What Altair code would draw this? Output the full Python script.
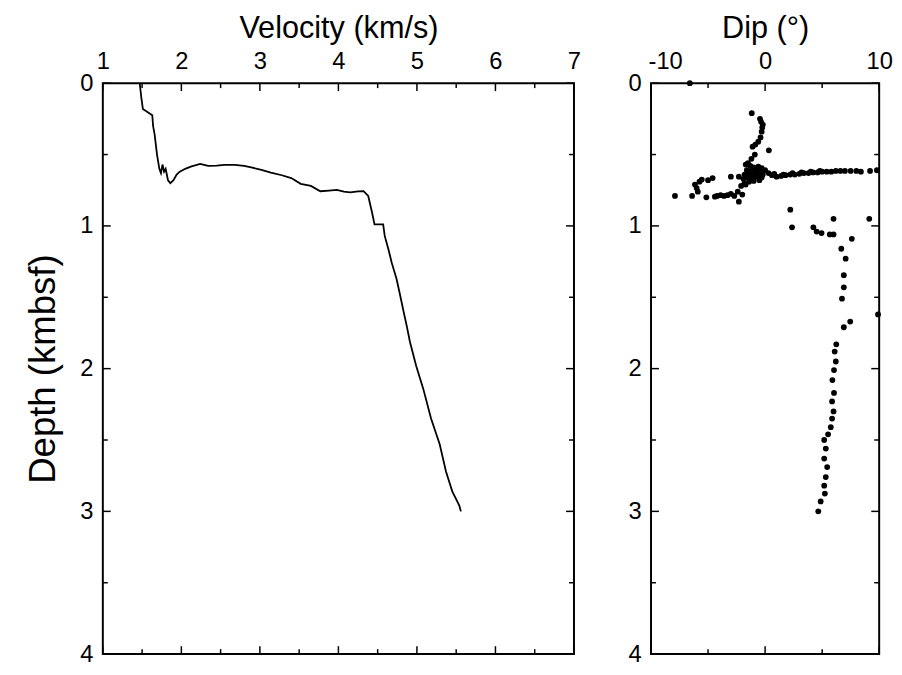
import altair as alt
import pandas as pd

# ---------------- data ----------------
VELOCITY = [1.47, 1.49, 1.51, 1.63, 1.64, 1.66, 1.69, 1.72, 1.74, 1.76, 1.78, 1.80, 1.83, 1.86,
            1.90, 1.94, 1.98, 2.05, 2.12, 2.24, 2.34, 2.45, 2.55, 2.68, 2.80, 2.89, 3.02, 3.14,
            3.28, 3.40, 3.52, 3.65, 3.77, 3.88, 3.98, 4.07, 4.15, 4.25, 4.32, 4.38, 4.43, 4.46,
            4.57, 4.59, 4.64, 4.68, 4.74, 4.78, 4.83, 4.87, 4.91, 4.99, 5.08, 5.18, 5.29, 5.37,
            5.45, 5.54, 5.56]
VEL_DEPTH = [0.00, 0.10, 0.18, 0.225, 0.30, 0.36, 0.50, 0.60, 0.63, 0.57, 0.62, 0.60, 0.68, 0.70,
             0.68, 0.64, 0.62, 0.60, 0.585, 0.566, 0.58, 0.578, 0.573, 0.573, 0.58, 0.59, 0.607,
             0.626, 0.645, 0.665, 0.705, 0.72, 0.757, 0.752, 0.747, 0.76, 0.765, 0.758, 0.757,
             0.79, 0.91, 0.99, 0.99, 1.07, 1.17, 1.26, 1.37, 1.47, 1.60, 1.70, 1.81, 1.98, 2.14,
             2.35, 2.53, 2.72, 2.86, 2.96, 3.00]

DIP = [-6.6,
       -1.17, -0.45, -0.35, -0.2, -0.25, -0.3, -0.4, -0.6, -0.85, -1.1, 0.33, -0.9, -1.2, -1.7, -1.5,
       -1.3, -1.0, -0.6, -0.3, -1.6, -1.2, -0.8, -0.4, 0.0, -1.8, -1.4, -1.0, -0.6, -0.2, 0.3,
       -1.9, -1.5, -1.1, -0.7, -0.3, -1.8, -1.4, -1.0, -0.5, -2.1, -1.7, -2.3,
       0.6, 1.0, 1.4, 1.8, 2.2, 2.6, 3.0, 3.4, 3.8, 4.2, 4.6, 5.0, 5.4, 5.8, 6.2, 6.6, 7.0, 7.5,
       8.0, 8.4, 9.2, 9.8, 0.8, 1.6, 2.4, 3.2, 4.0, 4.8,
       -7.9, -6.4, -6.15, -6.0, -5.75, -5.55, -5.15, -5.0, -4.6, -4.4, -4.2, -3.9, -3.6, -3.3,
       -3.0, -2.7, -3.0, -2.3, -2.0, -2.4, -5.9,
       2.21, 2.36, 4.23, 4.52, 4.95, 5.67, 6.0, 6.0, 9.13, 7.6, 6.68, 7.06, 6.9, 6.9, 6.74, 9.9,
       7.46, 6.9, 6.24, 6.1, 6.2, 6.04, 5.9, 6.04, 5.87, 6.0, 5.87, 5.76, 5.52, 5.18, 5.32, 5.18,
       5.44, 5.32, 5.18, 5.24, 4.87, 4.66]
DIP_DEPTH = [0.0,
             0.21, 0.25, 0.27, 0.29, 0.31, 0.34, 0.38, 0.41, 0.43, 0.445, 0.47, 0.50, 0.53, 0.57, 0.56,
             0.58, 0.59, 0.585, 0.595, 0.61, 0.615, 0.61, 0.62, 0.61, 0.64, 0.635, 0.64, 0.63, 0.64, 0.63,
             0.67, 0.66, 0.665, 0.655, 0.66, 0.70, 0.69, 0.685, 0.68, 0.72, 0.71, 0.655,
             0.645, 0.655, 0.65, 0.645, 0.64, 0.64, 0.635, 0.63, 0.63, 0.625, 0.625, 0.62, 0.62, 0.62,
             0.615, 0.615, 0.615, 0.615, 0.615, 0.62, 0.615, 0.61, 0.635, 0.64, 0.63, 0.625, 0.62, 0.615,
             0.79, 0.79, 0.71, 0.735, 0.69, 0.675, 0.80, 0.68, 0.665, 0.795, 0.79, 0.785, 0.79, 0.785,
             0.775, 0.79, 0.655, 0.83, 0.78, 0.76, 0.76,
             0.886, 1.01, 1.01, 1.04, 1.05, 1.06, 1.06, 0.95, 0.95, 1.09, 1.16, 1.23, 1.345, 1.43, 1.51,
             1.62, 1.67, 1.71, 1.83, 1.88, 1.95, 2.01, 2.08, 2.17, 2.23, 2.30, 2.35, 2.41, 2.46, 2.50,
             2.56, 2.63, 2.69, 2.76, 2.82, 2.875, 2.93, 3.0]

VEL_MAJOR = [1, 2, 3, 4, 5, 6, 7]
VEL_MINOR = [1.5, 2.5, 3.5, 4.5, 5.5, 6.5]
DIP_MAJOR = [-10, 0, 10]
DIP_MINOR = [-5, 5]
DEPTH_MAJOR = [0, 1, 2, 3, 4]
DEPTH_MINOR = [0.5, 1.5, 2.5, 3.5]

# ---------------- layout / style ----------------
FONT = "Liberation Sans"
LW, RW, H = 477, 231, 578
MAJ, MIN = 8, 5

vel_df = pd.DataFrame({"v": VELOCITY, "d": VEL_DEPTH, "i": range(len(VELOCITY))})
dip_df = pd.DataFrame({"v": DIP, "d": DIP_DEPTH})

ys = alt.Scale(domain=[0, 4], reverse=True, nice=False, zero=False)


def y_axis(with_title):
    kw = dict(values=DEPTH_MAJOR, tickSize=0, domain=False, grid=False, labelFontSize=24,
              labelFont=FONT, labelColor="black", labelPadding=10, labelFlush=False,
              labelOverlap=False)
    if with_title:
        kw.update(title="Depth (kmbsf)", titleFont=FONT, titleFontSize=37, titleFontWeight="normal",
                  titleColor="black", titlePadding=18)
    else:
        kw.update(title=None)
    return alt.Axis(**kw)


def x_axis(title, values, first_left=False):
    kw = dict(orient="top", values=values, tickSize=0, domain=False, grid=False,
              labelFontSize=24, labelFont=FONT, labelColor="black", labelPadding=10,
              labelFlush=False, labelOverlap=False, title=title, titleFont=FONT,
              titleFontSize=31, titleFontWeight="normal", titleColor="black",
              titlePadding=5, labelExpr="replace(datum.label, '\u2212', '-')")
    if first_left:
        kw["labelAlign"] = alt.condition(f"datum.value == {values[0]}",
                                         alt.value("left"), alt.value("center"))
        kw["labelOffset"] = alt.condition(f"datum.value == {values[0]}",
                                          alt.value(-3), alt.value(0))
    return alt.Axis(**kw)


def tick_layers(xs, xax, yax, x_major, x_minor, width):
    layers = []
    for vals, L in ((x_major, MAJ), (x_minor, MIN)):
        df = pd.DataFrame({"v": vals})
        X = alt.X("v:Q", scale=xs, axis=xax)
        layers.append(alt.Chart(df).mark_rule(color="black", strokeWidth=1.5).encode(
            x=X, y=alt.value(0), y2=alt.value(L)))
        layers.append(alt.Chart(df).mark_rule(color="black", strokeWidth=1.5).encode(
            x=X, y=alt.value(H - L), y2=alt.value(H)))
    for vals, L in ((DEPTH_MAJOR, MAJ), (DEPTH_MINOR, MIN)):
        df = pd.DataFrame({"d": vals})
        Y = alt.Y("d:Q", scale=ys, axis=yax)
        layers.append(alt.Chart(df).mark_rule(color="black", strokeWidth=1.5).encode(
            y=Y, x=alt.value(0), x2=alt.value(L)))
        layers.append(alt.Chart(df).mark_rule(color="black", strokeWidth=1.5).encode(
            y=Y, x=alt.value(width - L), x2=alt.value(width)))
    return layers


# ---------------- left panel ----------------
xs_vel = alt.Scale(domain=[1, 7], nice=False, zero=False)
xax_vel = x_axis("Velocity (km/s)", VEL_MAJOR)
yax_left = y_axis(True)

vel_line = alt.Chart(vel_df).mark_line(color="black", strokeWidth=1.8).encode(
    x=alt.X("v:Q", scale=xs_vel, axis=xax_vel),
    y=alt.Y("d:Q", scale=ys, axis=yax_left),
    order="i:Q",
)
left = alt.layer(vel_line, *tick_layers(xs_vel, xax_vel, yax_left, VEL_MAJOR, VEL_MINOR, LW)
                 ).properties(width=LW, height=H)

# ---------------- right panel ----------------
xs_dip = alt.Scale(domain=[-10, 10], nice=False, zero=False)
xax_dip = x_axis("Dip (°)", DIP_MAJOR, first_left=True)
yax_right = y_axis(False)

dip_pts = alt.Chart(dip_df).mark_circle(color="black", size=34, opacity=1).encode(
    x=alt.X("v:Q", scale=xs_dip, axis=xax_dip),
    y=alt.Y("d:Q", scale=ys, axis=yax_right),
)
right = alt.layer(dip_pts, *tick_layers(xs_dip, xax_dip, yax_right, DIP_MAJOR, DIP_MINOR, RW)
                  ).properties(width=RW, height=H)

chart = alt.hconcat(left, right).properties(
    padding={"left": 15, "top": 0, "right": 0, "bottom": 0},
    background="white",
).configure_view(stroke="black", strokeWidth=2).configure_concat(spacing=45)

chart.save("out.html", embed_options={"renderer": "svg", "actions": False})
